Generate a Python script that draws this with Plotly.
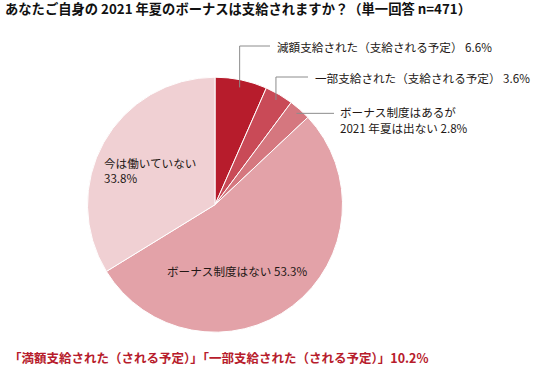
import math
import plotly.graph_objects as go

W, H = 533, 371

labels = ["減額支給された（支給される予定）", "一部支給された（支給される予定）",
          "ボーナス制度はあるが|2021 年夏は出ない", "ボーナス制度はない", "今は働いていない"]
values = [6.6, 3.6, 2.8, 53.3, 33.8]
colors = ["#B71C2C", "#C94A57", "#D5777F", "#E3A2A8", "#F0D0D3"]

title_text = "あなたご自身の 2021 年夏のボーナスは支給されますか？（単一回答 n=471）"
footer_text = "「満額支給された（される予定）」「一部支給された（される予定）」10.2%"

FONT = "Noto Sans CJK JP"
TXT = "#231815"

# pie geometry in pixels
cx, cy, R = 215.0, 204.7, 127.5


def px(x):
    return x / W


def py(y):
    return 1 - y / H


fig = go.Figure(go.Pie(
    labels=[l.replace("|", "") for l in labels], values=values, sort=False,
    direction="clockwise", rotation=0,
    marker=dict(colors=colors, line=dict(color="white", width=1)),
    textinfo="none", hoverinfo="skip", showlegend=False,
    domain=dict(x=[px(cx - R), px(cx + R)], y=[py(cy + R), py(cy - R)]),
))

total = sum(values)
cum = 0
mids = []
for v in values:
    mids.append((cum + v / 2) / total * 2 * math.pi)
    cum += v


def pt(i, rf):
    a = mids[i]
    return cx + rf * R * math.sin(a), cy - rf * R * math.cos(a)


shapes = []
annotations = []
line_style = dict(color="#8c8c8c", width=1)


def add_text(x, y, text):
    annotations.append(dict(x=px(x), y=py(y), text=text, xanchor="left",
                            yanchor="middle", align="left"))


# leader for slice 0
x0, y0 = pt(0, 0.94)
shapes.append(dict(type="path", xref="paper", yref="paper",
                   path=f"M {px(x0)},{py(y0)} L {px(x0)},{py(46)} L {px(270)},{py(46)}",
                   line=line_style))
add_text(275, 46.5, f"{labels[0]} {values[0]}%")
# slice 1
x1, y1 = pt(1, 0.95)
shapes.append(dict(type="path", xref="paper", yref="paper",
                   path=f"M {px(x1)},{py(y1)} L {px(x1)},{py(77)} L {px(308)},{py(77)}",
                   line=line_style))
add_text(313, 77.5, f"{labels[1]} {values[1]}%")
# slice 2
x2, y2 = pt(2, 0.96)
shapes.append(dict(type="path", xref="paper", yref="paper",
                   path=f"M {px(x2)},{py(y2)} L {px(334)},{py(y2)}",
                   line=line_style))
l3a, l3b = labels[2].split("|")
add_text(338, 111.7, l3a)
add_text(338, 128.3, f"{l3b} {values[2]}%")
# inside labels
add_text(102, 170.5, f"{labels[4]}<br>{values[4]}%")
add_text(165, 271.3, f"{labels[3]} {values[3]}%")

for a in annotations:
    a.update(xref="paper", yref="paper", showarrow=False,
             font=dict(family=FONT, size=11.6, color=TXT))

annotations.append(dict(x=px(3), y=py(8), xref="paper", yref="paper", showarrow=False,
                        text=f"<b>{title_text}</b>", xanchor="left", yanchor="middle",
                        font=dict(family=FONT, size=13.3, color="#111111")))
annotations.append(dict(x=px(7), y=py(357), xref="paper", yref="paper", showarrow=False,
                        text=f"<b>{footer_text}</b>", xanchor="left", yanchor="middle",
                        font=dict(family=FONT, size=12.5, color="#B71C2C")))

fig.update_layout(width=W, height=H, margin=dict(l=0, r=0, t=0, b=0),
                  paper_bgcolor="white", plot_bgcolor="white",
                  shapes=shapes, annotations=annotations,
                  font=dict(family=FONT))

fig.write_html("out.html", post_script="document.body.style.margin='0';",
               config=dict(displayModeBar=False))
